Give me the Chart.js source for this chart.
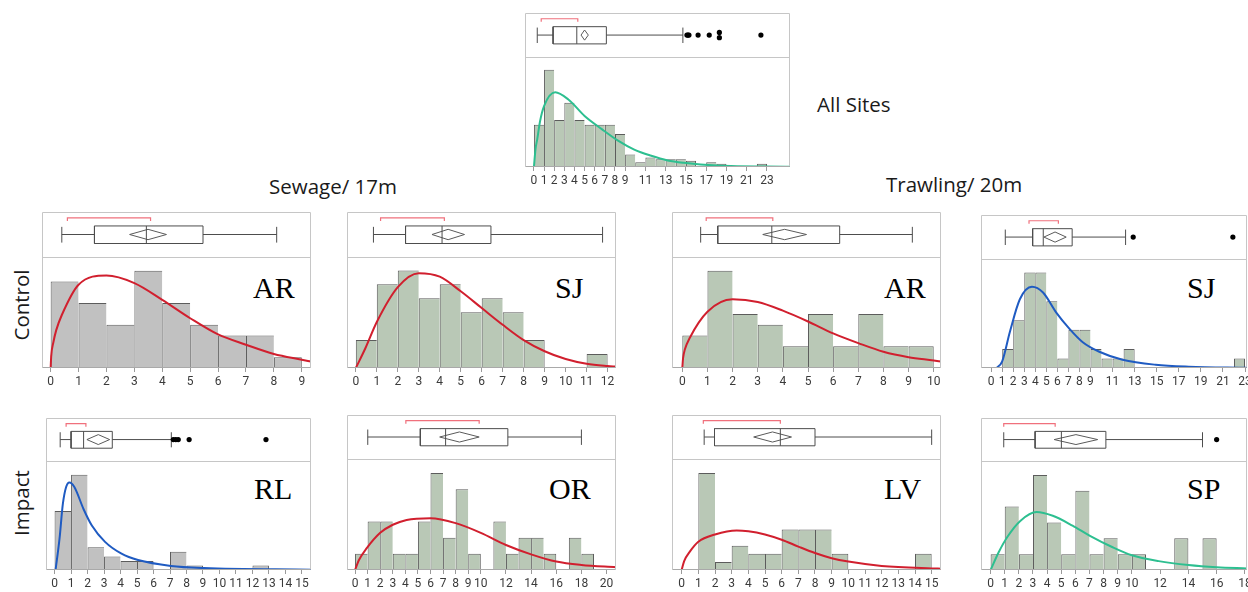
<!DOCTYPE html>
<html>
<head>
<meta charset="utf-8">
<title>Size distributions by site</title>
<script src="https://cdn.jsdelivr.net/npm/chart.js@4.4.1/dist/chart.umd.min.js"></script>
<style>
  html, body { margin: 0; padding: 0; background: #fff; }
  body { position: relative; width: 1248px; height: 592px; overflow: hidden; }
  .panel { position: absolute; }
  .panel canvas { display: block; }
  .head { position: absolute; font-family: "Open Sans", sans-serif; font-size: 20.5px; line-height: 20px; color: #1a1a1a; white-space: nowrap; }
  .row { position: absolute; font-family: "Open Sans", sans-serif; font-size: 20.5px; line-height: 20px; color: #1a1a1a; white-space: nowrap; transform: translate(-50%, -50%) rotate(-90deg); }
  .site { position: absolute; font-family: "Liberation Serif", "Times New Roman", serif; font-size: 30px; line-height: 30px; color: #000; white-space: nowrap; }
</style>
</head>
<body>
<div class="head" style="left:817px;top:94px">All Sites</div>
<div class="head" style="left:269px;top:176px">Sewage/ 17m</div>
<div class="head" style="left:886px;top:174px">Trawling/ 20m</div>
<div class="row" style="left:21px;top:305px">Control</div>
<div class="row" style="left:21px;top:503px">Impact</div>
<div class="site" style="left:253px;top:273px">AR</div>
<div class="site" style="left:555px;top:273px">SJ</div>
<div class="site" style="left:884px;top:273px">AR</div>
<div class="site" style="left:1187px;top:273px">SJ</div>
<div class="site" style="left:254px;top:474px">RL</div>
<div class="site" style="left:549px;top:474px">OR</div>
<div class="site" style="left:884px;top:474px">LV</div>
<div class="site" style="left:1187px;top:474px">SP</div>

<script>
// ---------- data ----------
// Box summaries are [low whisker, Q1, median, Q3, high whisker];
// mean arrays are [lower 95% CI, mean, upper 95% CI]; short = shortest half.

// All sites pooled
const allTicks = [0,1,2,3,4,5,6,7,8,9,11,13,15,17,19,21,23];
const allBins = [0,1,2,3,4,5,6,7,8,9,10,11,12,13,14,15,17,18,22];
const allCounts = [27,62,30,41,30,27,27,27,21,8,3,6,5,5,5,4,3,2,2];
const allFitX = [0,0.16,0.33,0.6,1,2.1,3.4,5,6.7,8.3,9.9,11.5,13.2,14.8,18,25.3];
const allFitY = [0,11.5,17.8,29,38.8,47.6,43,32.5,24.1,16.8,11.1,7.3,4.2,2.7,1.0,0.2];
const allBox = [0.33,1.89,4.23,7.15,14.7];
const allMean = [4.65,5.0,5.37];
const allShort = [0.72,4.33];
const allOut = [15.1,15.2,15.3,16.2,17.3,18.3,18.3,22.4];

// Sewage 17 m, control AR
const sewArTicks = [0,1,2,3,4,5,6,7,8,9];
const sewArBins = [0,1,2,3,4,5,6,7,8];
const sewArCounts = [8,6,4,9,6,4,3,3,1];
const sewArFitX = [0,0.02,0.1,0.2,0.4,1,2,3,4,5,6,7,8,9,9.33];
const sewArFitY = [0,1.1,2.4,3.5,4.9,7.7,8.55,7.85,6.3,4.6,3.1,2.15,1.3,0.77,0.6];
const sewArBox = [0.4,1.57,3.43,5.46,8.1];
const sewArMean = [2.83,3.49,4.15];
const sewArShort = [0.6,3.58];
const sewArOut = [];

// Sewage 17 m, control SJ
const sewSjTicks = [0,1,2,3,4,5,6,7,8,9,10,11,12];
const sewSjBins = [0,1,2,3,4,5,6,7,8,11];
const sewSjCounts = [2,6,7,5,6,4,5,4,2,1];
const sewSjFitX = [0,0.45,1,2,3,4,5,6,7,8,9,10,11,12,12.4];
const sewSjFitY = [0,1.4,3.3,5.8,6.8,6.55,5.5,4.3,3.1,2.0,1.2,0.64,0.3,0.14,0.1];
const sewSjBox = [0.84,2.37,4.11,6.44,11.76];
const sewSjMean = [3.63,4.4,5.18];
const sewSjShort = [1.18,4.22];
const sewSjOut = [];

// Trawling 20 m, control AR
const trwArTicks = [0,1,2,3,4,5,6,7,8,9,10];
const trwArBins = [0,1,2,3,4,5,6,7,8,9];
const trwArCounts = [3,9,5,4,2,5,2,5,2,2];
const trwArFitX = [0,0.03,0.1,0.3,1,2,3,4,5,6,7,8,9,10,10.3];
const trwArFitY = [0,0.9,1.7,2.8,5.2,6.35,6.1,5.3,4.3,3.2,2.3,1.5,1.0,0.7,0.6];
const trwArBox = [0.73,1.41,3.56,6.26,9.15];
const trwArMean = [3.2,4.07,4.94];
const trwArShort = [0.95,3.6];
const trwArOut = [];

// Trawling 20 m, control SJ
const trwSjTicks = [0,1,2,3,4,5,6,7,8,9,11,13,15,17,19,21,23];
const trwSjBins = [1,2,3,4,5,6,7,8,9,10,11,12,22];
const trwSjCounts = [2,5,10,10,7,1,4,4,2,1,1,2,1];
const trwSjFitX = [0.5,1.0,1.7,2.6,3.7,4.7,5.9,7.1,8.3,9.8,11.9,14.9,17.9,23.2];
const trwSjFitY = [0,0.7,3.8,7.2,8.5,7.9,5.8,4.1,2.7,1.7,0.86,0.34,0.14,0.02];
const trwSjBox = [1.28,3.76,4.72,7.34,12.18];
const trwSjMean = [4.78,5.79,6.8];
const trwSjShort = [3.43,6.09];
const trwSjOut = [12.87,21.9];

// Sewage 17 m, impact RL
const sewRlTicks = [0,1,2,3,4,5,6,7,8,9,10,11,12,13,14,15];
const sewRlBins = [0,1,2,3,4,5,7,8,12];
const sewRlCounts = [13,21,5,3,2,2,4,1,1];
const sewRlFitX = [0.06,0.3,0.5,0.7,0.9,1.2,1.76,2.26,3.06,4.06,5.06,7.06,9.06,15.56];
const sewRlFitY = [0,6.9,14.5,18.3,19.3,18.3,13.4,9.8,6.2,3.6,2.2,0.9,0.43,0.07];
const sewRlBox = [0.34,1.0,1.76,3.5,7.08];
const sewRlMean = [1.96,2.65,3.34];
const sewRlShort = [0.7,1.9];
const sewRlOut = [7.2,7.35,7.5,8.16,12.82];

// Sewage 17 m, impact OR
const sewOrTicks = [0,1,2,3,4,5,6,7,8,9,10,12,14,16,18,20];
const sewOrBins = [0,1,2,3,4,5,6,7,8,9,11,12,13,14,15,17,18];
const sewOrCounts = [1,3,3,1,1,3,6,2,5,1,3,1,2,2,1,2,1];
const sewOrFitX = [0,0.3,0.93,2,3,4.1,6,8,10,12,14,16,18,20.75];
const sewOrFitY = [0,0.6,1.35,2.3,2.8,3.1,3.2,2.9,2.3,1.55,0.97,0.52,0.31,0.17];
const sewOrBox = [1.01,5.19,7.2,12.15,18.0];
const sewOrMean = [6.73,8.3,9.87];
const sewOrShort = [4.04,9.87];
const sewOrOut = [];

// Trawling 20 m, impact LV
const trwLvTicks = [0,1,2,3,4,5,6,7,8,9,10,11,12,13,14,15];
const trwLvBins = [1,2,3,4,5,6,7,8,9,14];
const trwLvCounts = [12,1,3,2,2,5,5,5,2,2];
const trwLvFitX = [0,0.15,0.5,1,2,3.3,4,5,6,7,8,9,10,12,15,15.56];
const trwLvFitY = [0,1.1,2.3,3.5,4.4,4.9,4.8,4.4,3.75,2.9,2.1,1.46,1.04,0.5,0.2,0.17];
const trwLvBox = [1.35,1.97,5.92,8.0,15.0];
const trwLvMean = [4.32,5.45,6.59];
const trwLvShort = [1.3,5.92];
const trwLvOut = [];

// Trawling 20 m, impact SP
const trwSpTicks = [0,1,2,3,4,5,6,7,8,9,10,12,14,16,18];
const trwSpBins = [0,1,2,3,4,5,6,7,8,9,10,13,15];
const trwSpCounts = [1,4,1,6,3,1,5,1,2,1,1,2,2];
const trwSpFitX = [0,0.58,1.17,2.1,3.26,4.4,5.8,7,8.6,10,11.9,14,16,18.15];
const trwSpFitY = [0,1.14,2.07,3.1,3.66,3.42,2.8,2.17,1.45,0.93,0.56,0.31,0.17,0.1];
const trwSpBox = [0.93,3.15,5.01,8.16,15.0];
const trwSpMean = [4.5,6.04,7.58];
const trwSpShort = [0.93,4.57];
const trwSpOut = [16.0];

// ---------- styling ----------
const FRAME = '#c6c6c6';
const AXIS = '#a9a9a9';
const BOX_LINE = '#4d4d4d';
const DIAMOND = '#5a5a5a';
const BRACKET = '#f0707c';
const GREEN = '#b9c8b6';
const GRAY = '#c1c1c1';
const BAR_EDGE = '#5c5c5c';
const RED = '#d11f2e';
const BLUE = '#1f5bc2';
const TEAL = '#2dbf90';

// vertical levels of the box-plot glyph on its 0..1 strip
const G = { mid: 0.5, boxLo: 0.3, boxHi: 0.69, capLo: 0.32, capHi: 0.67, dia: 0.115, brTop: 0.87, brFoot: 0.8 };

// panel frame: [left, top, divider, right, bottom] in page pixels
const panels = [
  { frame: [521, 10, 55, 789, 167], xRange: [-0.88, 25.27], yMax: 70,
    ticks: allTicks, bins: allBins, counts: allCounts, fitX: allFitX, fitY: allFitY,
    bar: GREEN, fit: TEAL, box: allBox, mean: allMean, short: allShort, out: allOut },
  { frame: [42, 212, 257, 310, 368], xRange: [-0.31, 9.33], yMax: 10.26,
    ticks: sewArTicks, bins: sewArBins, counts: sewArCounts, fitX: sewArFitX, fitY: sewArFitY,
    bar: GRAY, fit: RED, box: sewArBox, mean: sewArMean, short: sewArShort, out: sewArOut },
  { frame: [347, 212, 257, 615, 368], xRange: [-0.42, 12.4], yMax: 7.96,
    ticks: sewSjTicks, bins: sewSjBins, counts: sewSjCounts, fitX: sewSjFitX, fitY: sewSjFitY,
    bar: GREEN, fit: RED, box: sewSjBox, mean: sewSjMean, short: sewSjShort, out: sewSjOut },
  { frame: [672, 212, 257, 940, 368], xRange: [-0.41, 10.29], yMax: 10.26,
    ticks: trwArTicks, bins: trwArBins, counts: trwArCounts, fitX: trwArFitX, fitY: trwArFitY,
    bar: GREEN, fit: RED, box: trwArBox, mean: trwArMean, short: trwArShort, out: trwArOut },
  { frame: [977, 212, 257, 1246, 368], xRange: [-0.92, 23.18], yMax: 11.4,
    ticks: trwSjTicks, bins: trwSjBins, counts: trwSjCounts, fitX: trwSjFitX, fitY: trwSjFitY,
    bar: GREEN, fit: BLUE, box: trwSjBox, mean: trwSjMean, short: trwSjShort, out: trwSjOut },
  { frame: [42, 415, 459, 310, 570], xRange: [-0.52, 15.55], yMax: 24.0,
    ticks: sewRlTicks, bins: sewRlBins, counts: sewRlCounts, fitX: sewRlFitX, fitY: sewRlFitY,
    bar: GRAY, fit: BLUE, box: sewRlBox, mean: sewRlMean, short: sewRlShort, out: sewRlOut },
  { frame: [347, 415, 459, 615, 570], xRange: [-0.64, 20.75], yMax: 6.87,
    ticks: sewOrTicks, bins: sewOrBins, counts: sewOrCounts, fitX: sewOrFitX, fitY: sewOrFitY,
    bar: GREEN, fit: RED, box: sewOrBox, mean: sewOrMean, short: sewOrShort, out: sewOrOut },
  { frame: [672, 415, 459, 940, 570], xRange: [-0.58, 15.56], yMax: 13.74,
    ticks: trwLvTicks, bins: trwLvBins, counts: trwLvCounts, fitX: trwLvFitX, fitY: trwLvFitY,
    bar: GREEN, fit: RED, box: trwLvBox, mean: trwLvMean, short: trwLvShort, out: trwLvOut },
  { frame: [977, 415, 459, 1246, 570], xRange: [-0.68, 18.15], yMax: 6.87,
    ticks: trwSpTicks, bins: trwSpBins, counts: trwSpCounts, fitX: trwSpFitX, fitY: trwSpFitY,
    bar: GREEN, fit: TEAL, box: trwSpBox, mean: trwSpMean, short: trwSpShort, out: trwSpOut }
];

// draws the panel outline and the divider between box strip and histogram
const framePlugin = {
  id: 'panelFrame',
  afterDraw(chart) {
    const { ctx, chartArea: a, scales } = chart;
    const L = Math.round(a.left) + 0.5, R = Math.round(a.right) - 0.5;
    const T = Math.round(a.top) + 0.5, B = Math.round(a.bottom) - 0.5;
    const D = Math.round(scales.yHist.top) + 0.5;
    ctx.save();
    ctx.lineWidth = 1;
    ctx.strokeStyle = FRAME;
    ctx.beginPath();
    ctx.moveTo(L, B); ctx.lineTo(L, T); ctx.lineTo(R, T); ctx.lineTo(R, B);
    ctx.moveTo(L, D); ctx.lineTo(R, D);
    ctx.stroke();
    ctx.strokeStyle = AXIS;
    ctx.beginPath();
    ctx.moveTo(L, B); ctx.lineTo(R, B);
    ctx.stroke();
    ctx.restore();
  }
};

function glyphLine(points, color, width) {
  return {
    type: 'line', yAxisID: 'yBox', order: 1,
    data: points.map(([x, y]) => ({ x, y })),
    borderColor: color, borderWidth: width || 1,
    pointRadius: 0, tension: 0, fill: false
  };
}

function boxDatasets(p) {
  const [lo, q1, med, q3, hi] = p.box;
  const [mLo, m, mHi] = p.mean;
  const [s0, s1] = p.short;
  // repeated outlier values are spread vertically so each dot stays visible
  const seen = {};
  const outPts = p.out.map(v => {
    const n = p.out.filter(w => w === v).length;
    const k = seen[v] = (seen[v] === undefined ? 0 : seen[v] + 1);
    return { x: v, y: G.mid + (k - (n - 1) / 2) * 0.12 };
  });
  return [
    glyphLine([[q1, G.boxLo], [q3, G.boxLo], [q3, G.boxHi], [q1, G.boxHi], [q1, G.boxLo]], BOX_LINE),
    glyphLine([[med, G.boxLo], [med, G.boxHi]], BOX_LINE),
    glyphLine([[lo, G.mid], [q1, G.mid]], BOX_LINE),
    glyphLine([[q3, G.mid], [hi, G.mid]], BOX_LINE),
    glyphLine([[lo, G.capLo], [lo, G.capHi]], BOX_LINE),
    glyphLine([[hi, G.capLo], [hi, G.capHi]], BOX_LINE),
    glyphLine([[mLo, G.mid], [m, G.mid + G.dia], [mHi, G.mid], [m, G.mid - G.dia], [mLo, G.mid]], DIAMOND),
    glyphLine([[s0, G.brFoot], [s0, G.brTop], [s1, G.brTop], [s1, G.brFoot]], BRACKET, 1.2),
    {
      type: 'line', yAxisID: 'yBox', order: 0, showLine: false,
      data: outPts, pointRadius: 2.6, pointBorderWidth: 0,
      pointBackgroundColor: '#000', borderColor: '#000'
    }
  ];
}

const PAD_RIGHT = 14;
const AXIS_H = 24;

panels.forEach(p => {
  const [left, top, divider, right, bottom] = p.frame;
  const w = right - left + 1 + PAD_RIGHT;
  const h = bottom - top + 1 + AXIS_H;
  const wrap = document.createElement('div');
  wrap.className = 'panel';
  wrap.style.left = left + 'px';
  wrap.style.top = (top - 1) + 'px';
  const cv = document.createElement('canvas');
  cv.width = w; cv.height = h;
  cv.style.width = w + 'px'; cv.style.height = h + 'px';
  wrap.appendChild(cv);
  document.body.appendChild(wrap);

  const edges = p.bins.map(b => ({ top: 1, left: 1, bottom: 0, right: p.bins.includes(b + 1) ? 0 : 1 }));

  const datasets = [
    {
      type: 'line', yAxisID: 'yHist', order: 0,
      data: p.fitX.map((x, i) => ({ x, y: p.fitY[i] })),
      borderColor: p.fit, borderWidth: 2, pointRadius: 0,
      cubicInterpolationMode: 'monotone', fill: false
    },
    ...boxDatasets(p),
    {
      type: 'bar', yAxisID: 'yHist', order: 5,
      data: p.bins.map((b, i) => ({ x: b + 0.5, y: p.counts[i] })),
      backgroundColor: p.bar, borderColor: BAR_EDGE,
      borderWidth: c => edges[c.dataIndex] || 1,
      borderSkipped: 'start', inflateAmount: 0,
      barPercentage: 1, categoryPercentage: 1
    }
  ];

  new Chart(cv, {
    type: 'bar',
    data: { datasets },
    plugins: [framePlugin],
    options: {
      responsive: false,
      animation: false,
      events: [],
      devicePixelRatio: 1,
      layout: { padding: { left: 0, right: PAD_RIGHT, top: 1, bottom: 0 } },
      plugins: { legend: { display: false }, tooltip: { enabled: false } },
      scales: {
        x: {
          type: 'linear', position: 'bottom',
          min: p.xRange[0], max: p.xRange[1],
          offset: false,
          afterBuildTicks: s => { s.ticks = p.ticks.map(v => ({ value: v })); },
          ticks: {
            autoSkip: false, maxRotation: 0, minRotation: 0, padding: 3,
            color: '#3a3a3a',
            font: { family: 'Roboto', size: 12, lineHeight: '14px' },
            callback: v => String(v)
          },
          grid: { display: true, drawOnChartArea: false, drawTicks: true, tickLength: 4, color: '#9a9a9a', offset: false },
          border: { display: false }
        },
        // the histogram strip is listed first so the box strip is stacked above it
        yHist: {
          type: 'linear', position: 'left', stack: 'panel', stackWeight: bottom - divider,
          min: 0, max: p.yMax, display: false
        },
        yBox: {
          type: 'linear', position: 'left', stack: 'panel', stackWeight: divider - top,
          min: 0, max: 1, display: false
        }
      }
    }
  });
});
</script>
</body>
</html>
